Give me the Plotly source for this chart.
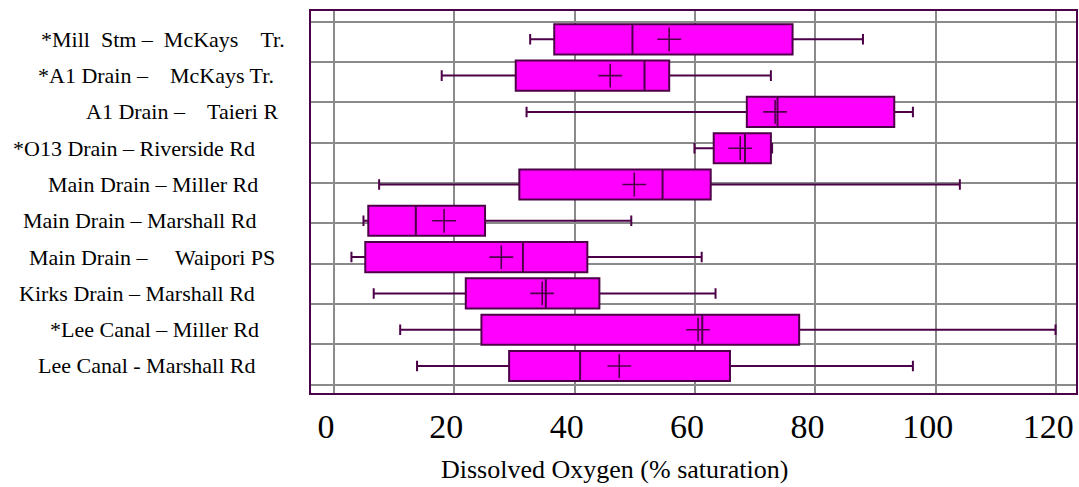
import plotly.graph_objects as go

# ---- data (top to bottom) ----
sites = [
    "*Mill\u00a0\u00a0Stm –\u00a0\u00a0McKays\u00a0\u00a0\u00a0\u00a0Tr.",
    "*A1 Drain –\u00a0\u00a0\u00a0\u00a0McKays Tr.",
    "A1 Drain –\u00a0\u00a0\u00a0\u00a0Taieri R",
    "*O13 Drain – Riverside Rd",
    "Main Drain – Miller Rd",
    "Main Drain – Marshall Rd",
    "Main Drain –\u00a0\u00a0\u00a0\u00a0\u00a0Waipori PS",
    "Kirks Drain – Marshall Rd",
    "*Lee Canal – Miller Rd",
    "Lee Canal - Marshall Rd",
]
lower = [32.6, 17.9, 32.0, 59.9, 7.5, 4.9, 2.9, 6.6, 11.0, 13.8]
q1 = [36.6, 30.2, 68.6, 63.1, 30.8, 5.7, 5.2, 21.9, 24.5, 29.1]
median = [49.6, 51.6, 73.7, 68.3, 54.6, 13.6, 31.4, 35.2, 61.2, 40.9]
q3 = [76.2, 55.7, 93.1, 72.6, 62.6, 25.1, 42.1, 44.1, 77.3, 65.8]
upper = [87.9, 72.6, 96.2, 72.8, 104.0, 49.4, 61.1, 63.4, 119.9, 96.2]
mean = [55.7, 45.9, 73.3, 67.5, 49.9, 18.3, 27.8, 34.6, 60.5, 47.4]
x_ticks = [0, 20, 40, 60, 80, 100, 120]
x_title = "Dissolved Oxygen (% saturation)"

# ---- styling ----
PURPLE = "#4d0048"
MAGENTA = "#ff00ff"
GRID = "#8a8a8a"
FONT = "'Liberation Serif', Tinos, 'Times New Roman', 'DejaVu Serif', 'Liberation Sans', Arial, sans-serif"
label_right_px = [287, 276, 280, 257, 260, 258, 277, 257, 261, 258]
plot_left, plot_right = 311, 1076

pos = list(range(len(sites)))

fig = go.Figure()
fig.add_trace(go.Box(
    y=pos, q1=q1, median=median, q3=q3,
    lowerfence=lower, upperfence=upper,
    orientation="h", boxpoints=False,
    fillcolor=MAGENTA, line=dict(color=PURPLE, width=2),
    width=0.83, whiskerwidth=0.35, hoverinfo="skip", showlegend=False,
))
fig.add_trace(go.Scatter(
    x=mean, y=pos, mode="markers",
    marker=dict(symbol="cross-thin", size=17, line=dict(color=PURPLE, width=1.6)),
    hoverinfo="skip", showlegend=False,
))
# dummy trace to create the grid axis
fig.add_trace(go.Scatter(x=[None], y=[None], yaxis="y2", showlegend=False, hoverinfo="skip"))

for i, s in enumerate(sites):
    fig.add_annotation(
        text=s, xref="paper", yref="y",
        x=(label_right_px[i] - plot_left) / (plot_right - plot_left), y=pos[i],
        xanchor="right", yanchor="middle", showarrow=False,
        font=dict(family=FONT, size=22, color="black"),
    )

fig.add_annotation(
    text=x_title, xref="paper", yref="paper",
    x=(614 - plot_left) / (plot_right - plot_left), y=-0.201,
    xanchor="center", yanchor="middle", showarrow=False,
    font=dict(family=FONT, size=26, color="black"),
)

fig.update_layout(
    width=1079, height=487,
    margin=dict(l=311, r=3, t=11, b=94),
    paper_bgcolor="white", plot_bgcolor="white",
    font=dict(family=FONT),
    showlegend=False,
    xaxis=dict(
        range=[-3.82, 123.3], tickvals=x_ticks, ticktext=[str(v) for v in x_ticks],
        showgrid=True, gridcolor=GRID, gridwidth=2, zeroline=False,
        showline=True, mirror=True, linecolor=PURPLE, linewidth=2,
        ticks="", tickfont=dict(family=FONT, size=34, color="black"),
        ticklabelstandoff=2, ticklabelshift=-8,
        ticklabeloverflow="allow", automargin=False,
    ),
    yaxis=dict(
        range=[9.744, -0.78], showticklabels=False, showgrid=False, zeroline=False,
        showline=True, mirror=True, linecolor=PURPLE, linewidth=2, ticks="",
        automargin=False,
    ),
    yaxis2=dict(
        overlaying="y", range=[9.205, -0.265], tickvals=pos, showticklabels=False,
        showgrid=True, gridcolor=GRID, gridwidth=2, zeroline=False, showline=False,
        ticks="", automargin=False,
    ),
)

fig.write_html("out.html")
